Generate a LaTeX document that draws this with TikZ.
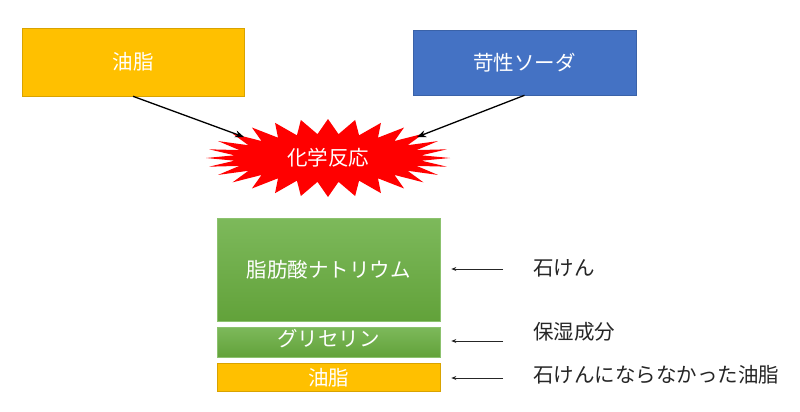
\documentclass[tikz,border=0pt]{standalone}
\usepackage{fontspec}
\setmainfont{Noto Sans CJK JP}
\usetikzlibrary{arrows.meta}
\definecolor{oilc}{HTML}{FFC000}
\definecolor{oilb}{HTML}{D9A300}
\definecolor{sodac}{HTML}{4472C4}
\definecolor{sodab}{HTML}{3A62A8}
\definecolor{greent}{HTML}{7DB95B}
\definecolor{greenb}{HTML}{62A23A}
\definecolor{greenl}{HTML}{8CC26E}
\definecolor{txt}{HTML}{262626}
\tikzset{
  box/.style={rectangle, inner sep=0pt, line width=0.6pt, text=white, font=\fontsize{20.5}{24}\selectfont},
  greenbox/.style={box, top color=greent, bottom color=greenb, draw=greenl},
  toparrow/.style={line width=1.3pt, -{Stealth[length=9pt,width=7pt]}},
  sidearrow/.style={line width=0.8pt, draw=txt, -{Stealth[length=5pt,width=4pt]}},
  lab/.style={anchor=west, inner sep=0pt, text=txt, font=\fontsize{20.5}{24}\selectfont}
}
\begin{document}
\begin{tikzpicture}[x=1pt,y=-1pt]
\useasboundingbox (0,0) rectangle (800,412);
\fill[white] (0,0) rectangle (800,412);
% top boxes
\node[box, fill=oilc, draw=oilb, minimum width=222pt, minimum height=68pt] (oil) at (133,62) {油脂};
\node[box, fill=sodac, draw=sodab, minimum width=223pt, minimum height=65pt] (soda) at (524.5,62.5) {苛性ソーダ};
% starburst
\fill[red, shift={(328,158)}] (122,0)
  \foreach \i in {1,...,55}
  { -- ({(108+14*cos(\i*180))*cos(\i*45/7)}, {(31.5+7.5*cos(\i*180))*sin(\i*45/7)}) } -- cycle;
\node[box] (react) at (328,158) {化学反応};
\coordinate (pL) at (244,137);
\coordinate (pR) at (417,137);
\draw[toparrow] (oil.south) -- (pL);
\draw[toparrow] (soda.south) -- (pR);
% products
\node[greenbox, minimum width=223pt, minimum height=103pt] (soap) at (328.5,269.5) {脂肪酸ナトリウム};
\node[greenbox, minimum width=223pt, minimum height=30pt] (gly) at (328.5,342) {};
\node[box] (glyt) at (328.5,339) {グリセリン};
\node[box, fill=oilc, draw=oilb, minimum width=223pt, minimum height=28pt] (oil2) at (328.5,377.5) {油脂};
% side arrows and labels
\coordinate (a1) at (503,269);
\coordinate (a2) at (503,341);
\coordinate (a3) at (503,378);
\draw[sidearrow] (a1) -- ([xshift=11pt]soap.east |- a1);
\draw[sidearrow] (a2) -- ([xshift=11pt]gly.east |- a2);
\draw[sidearrow] (a3) -- ([xshift=11pt]oil2.east |- a3);
\node[lab] (l1) at (533,268) {石けん};
\node[lab] (l2) at (533,332) {保湿成分};
\node[lab] (l3) at (533,375) {石けんにならなかった油脂};
\end{tikzpicture}
\end{document}
